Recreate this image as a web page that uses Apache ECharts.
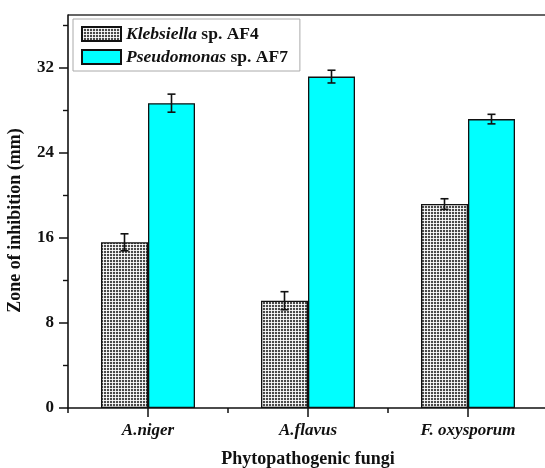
<!DOCTYPE html>
<html>
<head>
<meta charset="utf-8">
<script src="https://cdn.jsdelivr.net/npm/echarts@6/dist/echarts.min.js"></script>
<style>
  html, body { margin: 0; padding: 0; background: #fff; }
  #chart { width: 545px; height: 468px; }
</style>
</head>
<body>
<div id="chart"></div>
<script>
  // fungi on the x axis
  var categories = ['A.niger', 'A.flavus', 'F. oxysporum'];
  var seriesNames = ['Klebsiella sp. AF4', 'Pseudomonas sp. AF7'];
  // zone of inhibition, mm
  var klebsiella = [15.6, 10.1, 19.2];
  var klebsiellaErr = [0.8, 0.85, 0.5];
  var pseudomonas = [28.7, 31.2, 27.2];
  var pseudomonasErr = [0.85, 0.6, 0.45];
  // y ticks
  var yTicks = [0, 8, 16, 24, 32];
  var yMinorTicks = [4, 12, 20, 28, 36];

  var font = '"Liberation Serif", "DejaVu Serif", serif';
  var barW = 47;

  // grid-like hatch for the grey bars
  var pat = document.createElement('canvas');
  pat.width = 3; pat.height = 3;
  var ctx = pat.getContext('2d');
  ctx.fillStyle = '#4a4a4a';
  ctx.fillRect(0, 0, 3, 3);
  ctx.fillStyle = '#e8e8e8';
  ctx.fillRect(1, 0, 1, 3);
  ctx.fillRect(0, 1, 3, 1);
  ctx.fillStyle = '#ffffff';
  ctx.fillRect(1, 1, 1, 1);
  var hatch = { image: pat, repeat: 'repeat' };

  function errData(vals, errs) {
    return vals.map(function (v, i) { return [i, v, errs[i]]; });
  }

  function errRender(shift) {
    return function (params, api) {
      var i = api.value(0), v = api.value(1), e = api.value(2);
      var hi = api.coord([i, v + e]);
      var lo = api.coord([i, v - e]);
      var x = hi[0] + shift;
      var cap = 4;
      var st = { stroke: '#111', lineWidth: 1.6 };
      return {
        type: 'group',
        children: [
          { type: 'line', shape: { x1: x, y1: hi[1], x2: x, y2: lo[1] }, style: st },
          { type: 'line', shape: { x1: x - cap, y1: hi[1], x2: x + cap, y2: hi[1] }, style: st },
          { type: 'line', shape: { x1: x - cap, y1: lo[1], x2: x + cap, y2: lo[1] }, style: st }
        ]
      };
    };
  }

  var chart = echarts.init(document.getElementById('chart'));
  var option = {
    animation: false,
    backgroundColor: '#fff',
    textStyle: { fontFamily: font },
    grid: { left: 68, right: -3, top: 15, bottom: 60, containLabel: false, outerBoundsMode: 'none' },
    legend: {
      left: 73, top: 19,
      orient: 'vertical',
      itemWidth: 39, itemHeight: 14, itemGap: 5,
      padding: [6, 12, 5, 8],
      borderColor: '#aaa', borderWidth: 1,
      icon: 'rect',
      data: seriesNames,
      formatter: function (name) {
        var p = name.split(' ');
        return '{i|' + p[0] + '} ' + p.slice(1).join(' ');
      },
      textStyle: {
        fontFamily: font, fontSize: 17.5, fontWeight: 'bold', color: '#111',
        rich: { i: { fontFamily: font, fontSize: 17.5, fontWeight: 'bold', fontStyle: 'italic', color: '#111' } }
      }
    },
    xAxis: [
      {
        type: 'category',
        data: categories,
        name: 'Phytopathogenic fungi',
        nameLocation: 'middle',
        nameGap: 42,
        nameTextStyle: { fontFamily: font, fontSize: 18, fontWeight: 'bold', color: '#111' },
        axisLine: { lineStyle: { color: '#111', width: 1.6 } },
        axisTick: { show: true, alignWithLabel: true, length: 9, lineStyle: { color: '#111', width: 1.5 } },
        axisLabel: { fontFamily: font, fontSize: 17, fontWeight: 'bold', fontStyle: 'italic', color: '#111', margin: 14 }
      },
      {
        type: 'category',
        data: categories,
        position: 'bottom',
        axisLine: { show: false },
        axisTick: { show: true, length: 5, lineStyle: { color: '#111', width: 1.5 } },
        axisLabel: { show: false }
      }
    ],
    yAxis: [
      {
        type: 'value',
        min: 0, max: 37, interval: 8,
        name: 'Zone of inhibition (mm)',
        nameLocation: 'middle',
        nameGap: 44,
        nameTextStyle: { fontFamily: font, fontSize: 18, fontWeight: 'bold', color: '#111', padding: [0, 18, 0, 0] },
        axisLine: { show: true, lineStyle: { color: '#111', width: 1.6 } },
        axisTick: { show: true, length: 9, customValues: yTicks, lineStyle: { color: '#111', width: 1.5 } },
        splitLine: { show: false },
        axisLabel: { fontFamily: font, fontSize: 17, fontWeight: 'bold', color: '#111', margin: 14, customValues: yTicks }
      },
      {
        type: 'value',
        min: 0, max: 37, interval: 4,
        position: 'left',
        axisLine: { show: false },
        axisTick: { show: true, length: 5, customValues: yMinorTicks, lineStyle: { color: '#111', width: 1.4 } },
        splitLine: { show: false },
        axisLabel: { show: false }
      }
    ],
    graphic: [
      { type: 'line', shape: { x1: 68, y1: 15, x2: 545, y2: 15 }, style: { stroke: '#333', lineWidth: 1.6 } }
    ],
    series: [
      {
        name: seriesNames[0], type: 'bar', data: klebsiella,
        barWidth: barW, barGap: '0%',
        itemStyle: { color: hatch, borderColor: '#111', borderWidth: 1.3 }
      },
      {
        name: seriesNames[1], type: 'bar', data: pseudomonas,
        barWidth: barW, barGap: '0%',
        itemStyle: { color: '#00ffff', borderColor: '#111', borderWidth: 1.3 }
      },
      {
        type: 'custom', renderItem: errRender(-barW / 2),
        data: errData(klebsiella, klebsiellaErr), z: 10, silent: true
      },
      {
        type: 'custom', renderItem: errRender(barW / 2),
        data: errData(pseudomonas, pseudomonasErr), z: 10, silent: true
      }
    ]
  };
  chart.setOption(option);
</script>
</body>
</html>
